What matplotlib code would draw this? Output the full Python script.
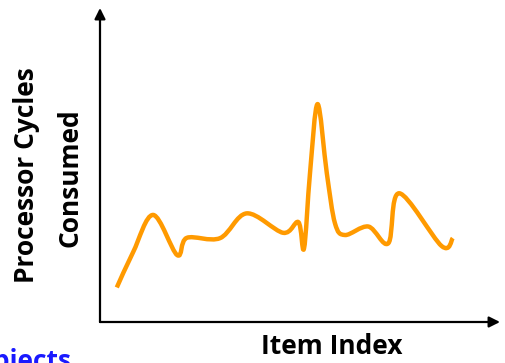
import matplotlib
matplotlib.use("Agg")
import matplotlib.pyplot as plt
import numpy as np
from matplotlib.path import Path
from matplotlib.patches import PathPatch

# key points
item_index = [4.2, 8.3, 13.3, 19.3, 21.7, 30.0, 36.7, 45.8, 49.6, 51.0,
              52.5, 54.4, 56.7, 58.75, 61.25, 67.1, 72.1, 74.8, 85.4, 88.2]
cycles = [11.0, 22.3, 34.1, 21.3, 26.8, 26.7, 34.6, 28.4, 31.8, 23.4,
          47.4, 69.4, 47.4, 31.4, 27.7, 30.4, 25.1, 41.0, 24.2, 26.7]

x_label = "Item Index"
y_label_top = "Processor Cycles"
y_label_bottom = "Consumed"
corner_text = "Objects"


def smooth_path(xs, ys, tension=0.5):
    # catmull-rom style bezier segments through the given points
    pts = np.column_stack([xs, ys])
    verts = [pts[0]]
    codes = [Path.MOVETO]
    n = len(pts)
    for i in range(n - 1):
        p0 = pts[max(i - 1, 0)]
        p1 = pts[i]
        p2 = pts[i + 1]
        p3 = pts[min(i + 2, n - 1)]
        c1 = p1 + (p2 - p0) * tension / 3
        c2 = p2 - (p3 - p1) * tension / 3
        verts += [c1, c2, p2]
        codes += [Path.CURVE4] * 3
    return Path(verts, codes)


fig = plt.figure(figsize=(5.05, 3.63), dpi=100)
ax = fig.add_axes([100 / 505, 41 / 363, 400 / 505, 314 / 363])
ax.set_xlim(0, 100)
ax.set_ylim(0, 100)
ax.axis("off")

patch = PathPatch(smooth_path(item_index, cycles, tension=0.5), facecolor="none",
                  edgecolor="#FF9A00", lw=3.2, capstyle="butt", joinstyle="round")
ax.add_patch(patch)

arrow = dict(arrowstyle="-|>", color="black", lw=1.6, mutation_scale=16,
             shrinkA=0, shrinkB=0)
ax.annotate("", xy=(0, 1), xytext=(0, 0), xycoords="axes fraction", arrowprops=arrow)
ax.annotate("", xy=(1, 0), xytext=(0, 0), xycoords="axes fraction", arrowprops=arrow)

font = ["Open Sans", "DejaVu Sans"]
fig.text(332 / 505, 1 - 347 / 363, x_label, ha="center", va="center",
         fontsize=19, fontweight="bold", family=font)
fig.text(27 / 505, 1 - 175 / 363, y_label_top, ha="center", va="center",
         rotation=90, fontsize=19, fontweight="bold", family=font)
fig.text(70 / 505, 1 - 178 / 363, y_label_bottom, ha="center", va="center",
         rotation=90, fontsize=19, fontweight="bold", family=font)
fig.text(71 / 505, 1 - 348 / 363, corner_text, ha="right", va="top",
         fontsize=19, fontweight="bold", color="#1A1AFF", family=font)

fig.savefig("out.png", dpi=100)
